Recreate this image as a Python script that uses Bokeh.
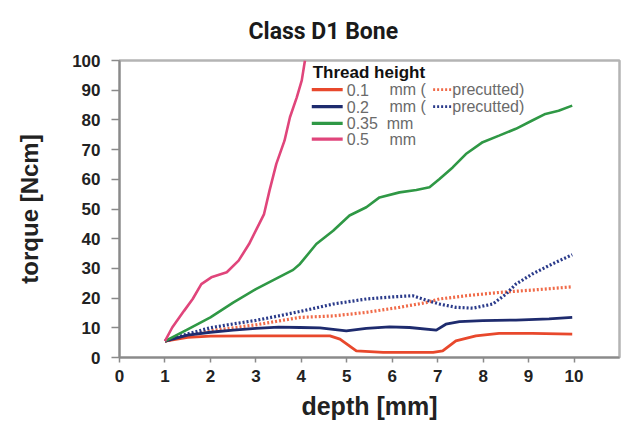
from bokeh.plotting import figure
from bokeh.models import FixedTicker
from bokeh.core.properties import value
from bokeh.embed import file_html
from bokeh.resources import INLINE

# ---- data ----
x_05 = [1, 1.16, 1.42, 1.61, 1.8, 2.02, 2.36, 2.62, 2.85, 3.07, 3.18, 3.3, 3.45, 3.63, 3.75, 3.9, 4.01, 4.08]
y_05 = [5.5, 10.1, 15.7, 19.7, 24.7, 27, 28.7, 32.6, 38.2, 44.9, 48.3, 56.2, 65.2, 73, 80.9, 87.6, 93.3, 100]

x_035 = [1, 1.5, 2, 2.5, 3, 3.5, 3.82, 3.97, 4.33, 4.7, 5.06, 5.43, 5.72, 6.16, 6.53, 6.82, 7.04, 7.33, 7.62, 7.99, 8.35, 8.72, 9.08, 9.37, 9.66, 9.96]
y_035 = [5.5, 9.5, 13.5, 18.5, 23, 27, 29.5, 31.5, 38.2, 42.7, 47.8, 50.6, 53.9, 55.6, 56.4, 57.3, 60.1, 64, 68.5, 72.5, 74.7, 77, 79.8, 82, 83.1, 84.8]

x_02 = [1, 1.5, 2, 2.5, 3, 3.5, 3.97, 4.41, 4.99, 5.43, 5.94, 6.38, 6.97, 7.18, 7.48, 7.99, 8.72, 9.45, 9.96]
y_02 = [5.5, 7.5, 8.5, 9.2, 9.8, 10.2, 10.1, 10, 9, 9.8, 10.3, 10.1, 9.2, 11.2, 12.1, 12.4, 12.6, 13, 13.5]

x_01 = [1, 1.5, 2, 3, 3.97, 4.63, 4.85, 5.21, 5.8, 6.9, 7.11, 7.4, 7.84, 8.35, 9.08, 9.96]
y_01 = [5.5, 6.8, 7.2, 7.3, 7.3, 7.3, 6.2, 2.2, 1.7, 1.7, 2.2, 5.6, 7.3, 8.1, 8.1, 7.9]

x_01p = [1, 1.5, 2, 2.5, 3, 3.5, 3.97, 4.7, 5.43, 6.16, 6.75, 7.04, 7.62, 8.35, 9.08, 9.96]
y_01p = [5.5, 7.5, 9, 10, 11, 12.3, 13.5, 14, 15.2, 16.9, 18.5, 19.7, 20.8, 21.9, 22.7, 23.8]

x_02p = [1, 1.5, 2, 2.5, 3, 3.5, 3.97, 4.7, 5.43, 6.0, 6.45, 6.75, 7.04, 7.4, 7.77, 8.21, 8.5, 8.72, 9.08, 9.52, 9.96]
y_02p = [5.5, 8, 10, 11.3, 12.5, 14, 15.5, 18, 19.7, 20.4, 20.8, 19.3, 18, 16.9, 16.6, 18, 21.3, 24.7, 28.1, 31.5, 34.6]

x_ticks = [0, 1, 2, 3, 4, 5, 6, 7, 8, 9, 10]
y_ticks = [0, 10, 20, 30, 40, 50, 60, 70, 80, 90, 100]

legend_title = "Thread height"
legend_sizes = ["0.1", "0.2", "0.35", "0.5"]

RED = "#e8482c"
RED_D = "#f06a48"
BLUE = "#1e2b6e"
BLUE_D = "#2a3a8a"
GREEN = "#2f9845"
PINK = "#e0457b"

FONT = "Liberation Sans"

p = figure(width=621, height=425, x_range=(0, 11), y_range=(0, 100),
           output_backend="svg", toolbar_location=None,
           title="Class D1 Bone",
           min_border_left=119, min_border_right=2, min_border_top=60, min_border_bottom=68)

p.title.align = "left"
p.title.offset = 129
p.title.text_font = "Roboto"
p.title.text_font_style = "bold"
p.title.text_font_size = "23px"
p.title.text_color = "#1a1a1a"
p.title.standoff = 31

p.grid.visible = False
p.background_fill_color = "white"
p.border_fill_color = "white"
p.outline_line_color = "#b4b4b4"
p.outline_line_width = 2.5

for ax in (p.xaxis, p.yaxis):
    ax.axis_line_color = "#8a8a8a"
    ax.axis_line_width = 2
    ax.major_tick_line_color = "#8a8a8a"
    ax.major_tick_line_width = 1.5
    ax.minor_tick_line_color = None
    ax.major_tick_in = 0
    ax.major_label_text_font = FONT
    ax.major_label_text_font_style = "bold"
    ax.major_label_text_font_size = "17px"
    ax.major_label_text_color = "#222222"
    ax.axis_label_text_font = FONT
    ax.axis_label_text_font_style = "bold"
    ax.axis_label_text_color = "#222222"

p.xaxis.ticker = FixedTicker(ticks=x_ticks)
p.yaxis.ticker = FixedTicker(ticks=y_ticks)
p.xaxis.major_tick_out = 5
p.yaxis.major_tick_out = 8
p.xaxis.major_label_standoff = 7
p.yaxis.major_label_standoff = 11

p.xaxis.axis_label = "depth [mm]"
p.xaxis.axis_label_text_font_size = "25px"
p.xaxis.axis_label_standoff = 7
p.yaxis.axis_label = "torque [Ncm]"
p.yaxis.axis_label_text_font_size = "24px"
p.yaxis.axis_label_standoff = 26

# ---- series ----
p.line(x_01p, y_01p, line_color=RED_D, line_width=3.2, line_dash="2 2")
p.line(x_02p, y_02p, line_color=BLUE_D, line_width=3.2, line_dash="2 2")
p.line(x_01, y_01, line_color=RED, line_width=2.8)
p.line(x_02, y_02, line_color=BLUE, line_width=2.8)
p.line(x_035, y_035, line_color=GREEN, line_width=2.6)
p.line(x_05, y_05, line_color=PINK, line_width=2.6)

# ---- legend (drawn by hand, as in the source) ----
row_y = [90.2, 84.5, 78.8, 73.5]
colors = [RED, BLUE, GREEN, PINK]
p.text(x=[4.25], y=[95.8], text=[legend_title], text_font=value(FONT), text_font_style="bold",
       text_font_size="17px", text_color="#111111", text_baseline="middle")
for yy, c in zip(row_y, colors):
    p.line([4.23, 4.91], [yy, yy], line_color=c, line_width=3.2)
p.text(x=[5.0] * 4, y=row_y, text=legend_sizes, text_font=value(FONT),
       text_font_size="16px", text_color="#6a6a6a", text_baseline="middle")
p.text(x=[5.94, 5.94, 5.88, 5.94], y=row_y, text=["mm (", "mm (", "mm", "mm"], text_font=value(FONT),
       text_font_size="16px", text_color="#6a6a6a", text_baseline="middle")
p.text(x=[7.32, 7.32], y=row_y[:2], text=["precutted)", "precutted)"], text_font=value(FONT),
       text_font_size="16px", text_color="#6a6a6a", text_baseline="middle")
p.line([6.9, 7.3], [row_y[0], row_y[0]], line_color=RED_D, line_width=2.8, line_dash="2 2")
p.line([6.9, 7.3], [row_y[1], row_y[1]], line_color=BLUE_D, line_width=2.8, line_dash="2 2")

open("out.html", "w").write(file_html(p, INLINE))
